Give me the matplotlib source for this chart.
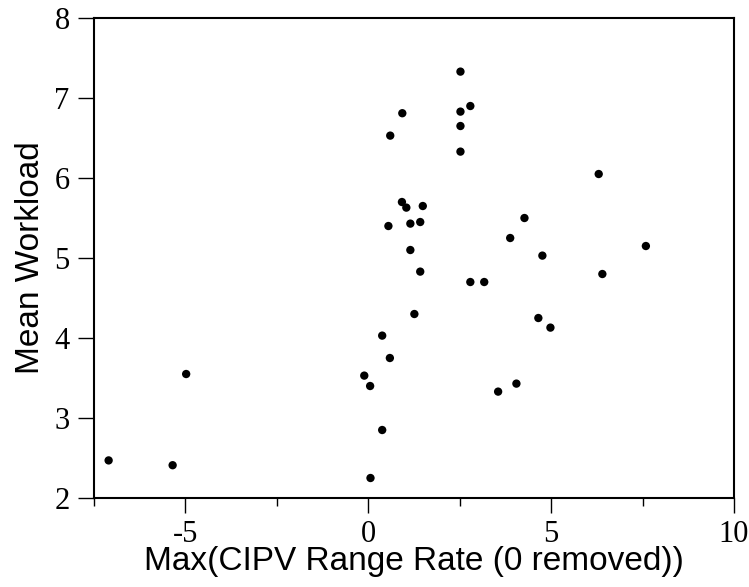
import numpy as np
import matplotlib
matplotlib.use('Agg')
import matplotlib.pyplot as plt
from matplotlib.ticker import MultipleLocator

plt.rcParams['axes.unicode_minus'] = False

# Max CIPV range rate (0 removed) vs mean workload
range_rate = [-7.10, -5.35, -4.98, -0.11, 0.05, 0.06, 0.38, 0.38, 0.59, 0.55,
              0.60, 0.93, 0.92, 1.04, 1.49, 1.15, 1.42, 1.15, 1.42, 1.26,
              2.52, 2.79, 2.52, 2.52, 2.52, 2.79, 3.17, 3.55, 4.05, 3.88,
              4.27, 4.65, 4.98, 4.76, 6.30, 6.40, 7.59]
workload = [2.47, 2.41, 3.55, 3.53, 3.40, 2.25, 2.85, 4.03, 3.75, 5.40,
            6.53, 6.81, 5.70, 5.63, 5.65, 5.43, 5.45, 5.10, 4.83, 4.30,
            7.33, 6.90, 6.83, 6.65, 6.33, 4.70, 4.70, 3.33, 3.43, 5.25,
            5.50, 4.25, 4.13, 5.03, 6.05, 4.80, 5.15]

x_ticks = [-5, 0, 5, 10]
y_ticks = [2, 3, 4, 5, 6, 7, 8]

fig = plt.figure(figsize=(7.49, 5.87), dpi=100)
ax = fig.add_axes([0.1255, 0.1516, 0.8545, 0.8177])

ax.scatter(range_rate, workload, s=36, color='black', edgecolors='none', zorder=3)

ax.set_xlim(-7.5, 10)
ax.set_ylim(2, 8)
ax.set_xticks(x_ticks)
ax.set_yticks(y_ticks)
ax.xaxis.set_minor_locator(MultipleLocator(2.5))

for sp in ax.spines.values():
    sp.set_linewidth(1.5)

ax.tick_params(axis='x', which='major', direction='out', length=11, width=1.0, pad=5)
ax.tick_params(axis='x', which='minor', direction='out', length=6, width=1.0)
ax.tick_params(axis='y', which='major', direction='out', length=11.5, width=1.0, pad=6)

for lbl in ax.get_xticklabels() + ax.get_yticklabels():
    lbl.set_family('Liberation Serif')
    lbl.set_fontsize(22)

ax.set_xlabel('Max(CIPV Range Rate (0 removed))', family='Liberation Sans',
              fontsize=24, labelpad=-2)
ax.set_ylabel('Mean Workload', family='Liberation Sans', fontsize=24, labelpad=6)

fig.savefig('out.png', dpi=100)
